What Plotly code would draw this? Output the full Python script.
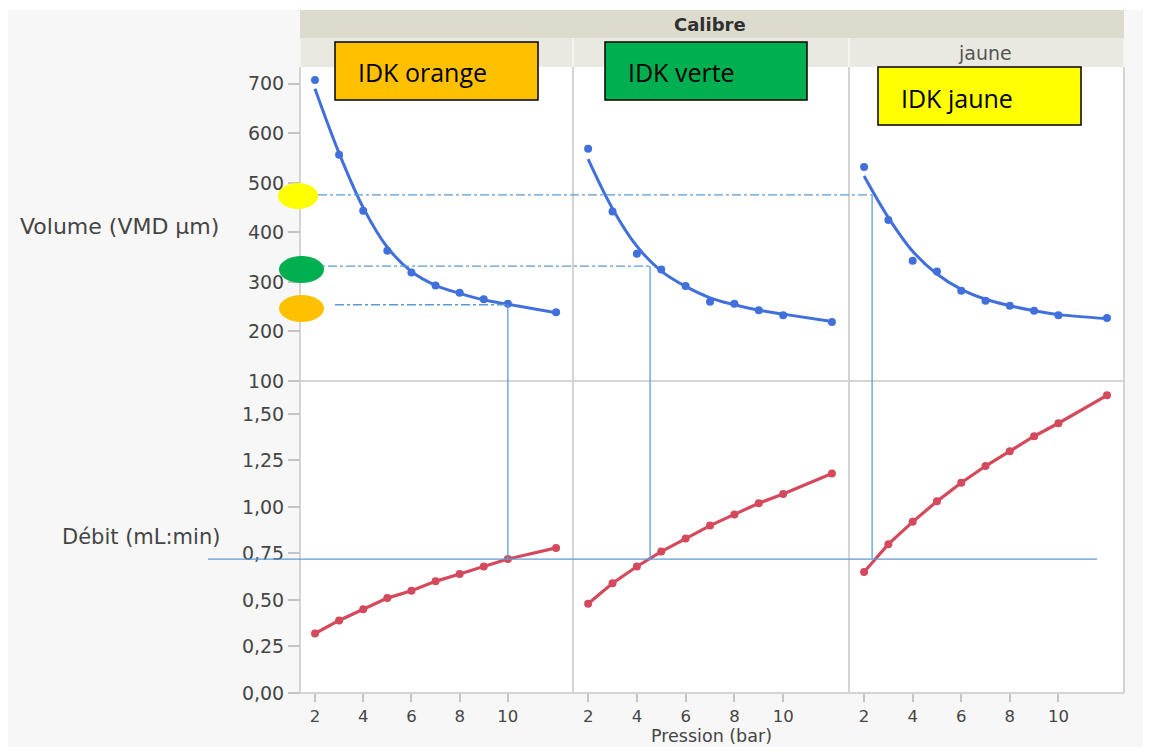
import plotly.graph_objects as go

# page is 1151x755; the browser body keeps an 8px margin
PW, PH = 1151, 755
OFF = 8
FW = PW - 2 * OFF
FH = PH - 2 * OFF

# ---------------- data ----------------
pressure = [2, 3, 4, 5, 6, 7, 8, 9, 10, 12]
calibres = ["IDK orange", "IDK verte", "IDK jaune"]

volume_orange = [708, 557, 444, 363, 319, 293, 278, 265, 256, 239]
volume_verte = [569, 442, 357, 325, 292, 260, 256, 243, 233, 219]
volume_jaune = [532, 425, 343, 321, 282, 262, 252, 242, 233, 227]

fit_orange = [690, 560, 450, 370, 321, 293, 277, 264, 255, 238]
fit_verte = [548, 448, 372, 322, 291, 268, 254, 243, 235, 220]
fit_jaune = [514, 430, 362, 316, 285, 265, 252, 242, 234, 226]

debit_orange = [0.32, 0.39, 0.45, 0.51, 0.55, 0.60, 0.64, 0.68, 0.72, 0.78]
debit_verte = [0.48, 0.59, 0.68, 0.76, 0.83, 0.90, 0.96, 1.02, 1.07, 1.18]
debit_jaune = [0.65, 0.80, 0.92, 1.03, 1.13, 1.22, 1.30, 1.38, 1.45, 1.60]

vol_ticks = [100, 200, 300, 400, 500, 600, 700]
deb_ticks = [0, 0.25, 0.5, 0.75, 1.0, 1.25, 1.5]
deb_ticktext = ["0,00", "0,25", "0,50", "0,75", "1,00", "1,25", "1,50"]
x_ticks = [2, 4, 6, 8, 10]

# reference lines drawn on the chart
ref_volume = [254, 332, 476]      # orange, verte, jaune
ref_pressure = [10, 4.54, 2.33]
ref_debit = 0.72

volumes = [volume_orange, volume_verte, volume_jaune]
fits = [fit_orange, fit_verte, fit_jaune]
debits = [debit_orange, debit_verte, debit_jaune]
box_colors = ["#FFC000", "#00B050", "#FFFF00"]

# ---------------- layout helpers (page pixels -> paper) ----------------
def fx(px):
    return (px - OFF) / FW


def fy(py):
    return 1 - (py - OFF) / FH


BLUE = "#4170dc"
RED = "#d44a5c"
REFC = "#5b9bd5"
TXT = "#454545"
FONT = "DejaVu Sans"

panel_px = [(300, 573), (573, 849), (849, 1124)]
upper_px = (67, 381)
lower_px = (381, 693)
x_range = [1.42, 12.66]
vol_range = [100, 734]
deb_range = [0, 1.677]

fig = go.Figure()

layout = dict(
    width=FW, height=FH,
    margin=dict(l=0, r=0, t=0, b=0, pad=0),
    paper_bgcolor="#f7f7f7",
    plot_bgcolor="rgba(0,0,0,0)",
    showlegend=False,
    font=dict(family=FONT, color=TXT),
)

tickfont = dict(size=19, color=TXT, family=FONT)

for i, (x0, x1) in enumerate(panel_px):
    xa = "xaxis" if i == 0 else f"xaxis{i+1}"
    ylow = 2 * i + 1
    yup = 2 * i + 2
    ylow_name = "y" if ylow == 1 else f"y{ylow}"
    layout[xa] = dict(
        domain=[fx(x0 + 1), fx(x1 - 1)], range=x_range, anchor=ylow_name,
        tickvals=x_ticks, ticks="outside", ticklen=8, tickcolor="#c4c4c4",
        tickwidth=1.5, showgrid=False, zeroline=False, showline=False,
        automargin=False, tickfont=dict(size=16.5, color=TXT, family=FONT),
    )
    xname = "x" if i == 0 else f"x{i+1}"
    ylow_key = "yaxis" if ylow == 1 else f"yaxis{ylow}"
    layout[ylow_key] = dict(
        domain=[fy(lower_px[1]), fy(lower_px[0])], range=deb_range, anchor=xname,
        tickvals=deb_ticks, ticktext=deb_ticktext,
        ticks="outside" if i == 0 else "", ticklen=12, tickcolor="#c4c4c4",
        tickwidth=1.5, showticklabels=(i == 0), showgrid=False, zeroline=False,
        showline=False, automargin=False, tickfont=tickfont,
    )
    layout[f"yaxis{yup}"] = dict(
        domain=[fy(upper_px[1]), fy(upper_px[0])], range=vol_range, anchor=xname,
        tickvals=vol_ticks, ticks="outside" if i == 0 else "", ticklen=12,
        tickcolor="#c4c4c4", tickwidth=1.5, showticklabels=(i == 0),
        showgrid=False, zeroline=False, showline=False, automargin=False,
        tickfont=tickfont,
    )

    fig.add_trace(go.Scatter(
        x=pressure, y=fits[i], mode="lines", line=dict(color=BLUE, width=3, shape="spline"),
        xaxis=xname, yaxis=f"y{yup}", hoverinfo="skip"))
    fig.add_trace(go.Scatter(
        x=pressure, y=volumes[i], mode="markers", marker=dict(color=BLUE, size=8),
        xaxis=xname, yaxis=f"y{yup}", name=calibres[i]))
    fig.add_trace(go.Scatter(
        x=pressure, y=debits[i], mode="lines+markers",
        line=dict(color=RED, width=3.2), marker=dict(color=RED, size=8),
        xaxis=xname, yaxis=ylow_name, name=calibres[i]))

shapes = []
# white strip at the very top (above the grey page)
shapes.append(dict(type="rect", xref="paper", yref="paper", x0=-0.01, x1=1.01,
                   y0=fy(10), y1=1.01, fillcolor="white", line=dict(width=0), layer="below"))
# header bands
shapes.append(dict(type="rect", xref="paper", yref="paper", x0=fx(300), x1=fx(1124),
                   y0=fy(38), y1=fy(10), fillcolor="#dcdbcd", line=dict(width=0), layer="below"))
shapes.append(dict(type="rect", xref="paper", yref="paper", x0=fx(300), x1=fx(1124),
                   y0=fy(67), y1=fy(38), fillcolor="#e9e9e1", line=dict(width=0), layer="below"))
# white plot areas
shapes.append(dict(type="rect", xref="paper", yref="paper", x0=fx(300), x1=fx(1124),
                   y0=fy(693), y1=fy(67), fillcolor="white", line=dict(width=0), layer="below"))
# panel borders
for xb in [300, 573, 849, 1124]:
    shapes.append(dict(type="line", xref="paper", yref="paper", x0=fx(xb), x1=fx(xb),
                       y0=fy(693), y1=fy(67), line=dict(color="#d4d4d4", width=2), layer="below"))
    shapes.append(dict(type="line", xref="paper", yref="paper", x0=fx(xb), x1=fx(xb),
                       y0=fy(67), y1=fy(38), line=dict(color="#f4f4ef", width=2), layer="below"))
for yb in [381, 693]:
    shapes.append(dict(type="line", xref="paper", yref="paper", x0=fx(300), x1=fx(1124),
                       y0=fy(yb), y1=fy(yb), line=dict(color="#d4d4d4", width=2), layer="below"))

# vertical reference lines
for i in range(3):
    xname = "x" if i == 0 else f"x{i+1}"
    shapes.append(dict(type="line", xref=xname, yref="y2",
                       x0=ref_pressure[i], x1=ref_pressure[i], y0=ref_volume[i], y1=vol_range[0],
                       line=dict(color=REFC, width=1.3)))
    shapes.append(dict(type="line", xref=xname, yref="y",
                       x0=ref_pressure[i], x1=ref_pressure[i], y0=deb_range[1], y1=ref_debit,
                       line=dict(color=REFC, width=1.3)))

# dash-dot horizontal lines starting at the ellipses
dash_start = [335, 310, 318]
for i in range(3):
    x0p, x1p = panel_px[i]
    pend = (ref_pressure[i] - x_range[0]) / (x_range[1] - x_range[0])
    xend = fx(x0p + 1) + pend * (fx(x1p - 1) - fx(x0p + 1))
    shapes.append(dict(type="line", xref="paper", yref="y2",
                       x0=fx(dash_start[i]), x1=xend, y0=ref_volume[i], y1=ref_volume[i],
                       line=dict(color=REFC, width=1.3, dash="dashdot")))

shapes.append(dict(type="line", xref="paper", yref="y", x0=fx(208), x1=fx(1097),
                   y0=ref_debit, y1=ref_debit, line=dict(color=REFC, width=1.3)))

# ellipses on the left
ell_colors = ["#FFC000", "#00B050", "#FFFF00"]
ell_px = [(279, 324, 295, 322), (279, 324, 256, 283), (278, 318, 183, 209)]
for c, (a, b, t, bt) in zip(ell_colors, ell_px):
    shapes.append(dict(type="circle", xref="paper", yref="paper", x0=fx(a), x1=fx(b),
                       y0=fy(bt), y1=fy(t), fillcolor=c, line=dict(width=0)))

# colored label boxes
box_px = [(335, 538, 42, 100), (605, 807, 42, 100), (878, 1081, 67, 125)]
for c, (a, b, t, bt) in zip(box_colors, box_px):
    shapes.append(dict(type="rect", xref="paper", yref="paper", x0=fx(a), x1=fx(b),
                       y0=fy(bt), y1=fy(t), fillcolor=c, line=dict(color="black", width=1.5)))

layout["shapes"] = shapes


def ann(text, x, y, size, color=TXT, xanchor="center", family=FONT):
    return dict(text=text, x=fx(x), y=fy(y), xref="paper", yref="paper",
                xanchor=xanchor, yanchor="middle", showarrow=False, borderpad=0,
                font=dict(size=size, color=color, family=family))


annotations = [
    ann("<b>Calibre</b>", 710, 25, 18, "#303030"),
    ann("jaune", 985, 53, 19, "#555555"),
    ann("Volume (VMD µm)", 220, 226, 22, xanchor="right"),
    ann("Débit (mL:min)", 221, 537, 21, xanchor="right"),
    ann("Pression (bar)", 711, 735.5, 17.5),
]
label_pos = [(357, 72), (627, 72), (900, 98)]
for name, (lx, ly) in zip(calibres, label_pos):
    annotations.append(ann(name, lx, ly, 25, "black", xanchor="left", family="Open Sans"))
layout["annotations"] = annotations

fig.update_layout(**layout)
fig.write_html("out.html")
